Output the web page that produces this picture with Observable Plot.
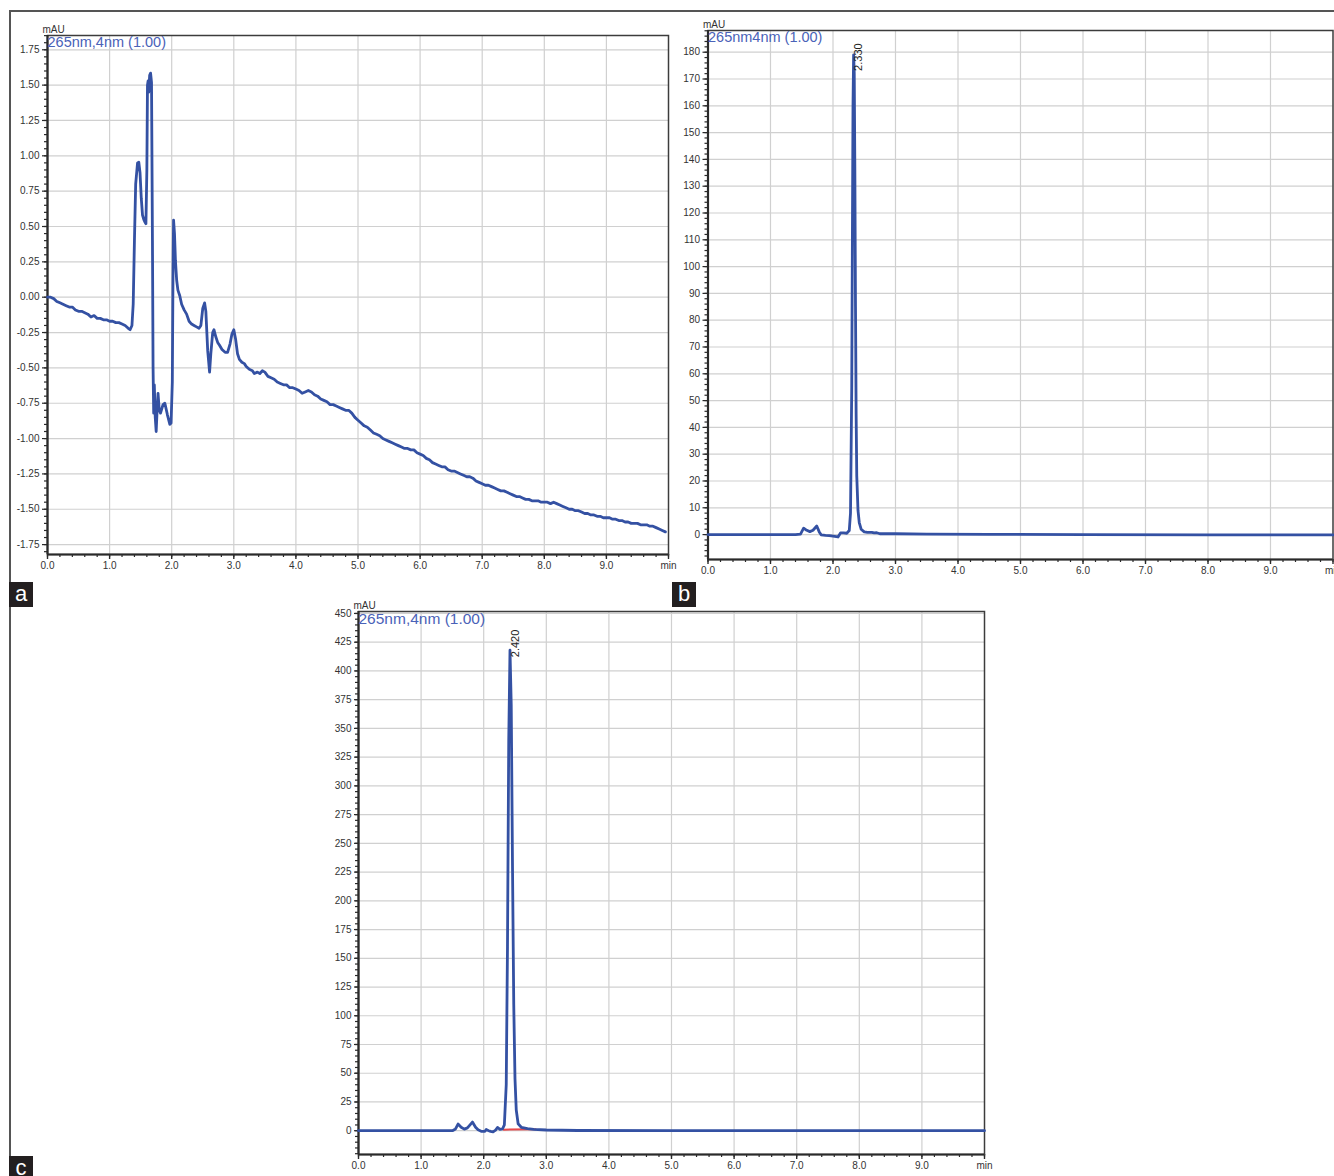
<!DOCTYPE html>
<html><head><meta charset="utf-8">
<script src="https://cdn.jsdelivr.net/npm/d3@7"></script>
<script src="https://cdn.jsdelivr.net/npm/@observablehq/plot@0.6"></script>
<style>
body{margin:0;background:#fff;}
#page{position:relative;width:1334px;height:1176px;overflow:hidden;font-family:"Liberation Sans",Arial,sans-serif;background:#fff}
.panel{position:absolute}
.panel svg{overflow:visible}
.tag{position:absolute;background:#231f20;color:#fff;font-size:22px;line-height:23px;text-align:center;width:24px;height:25px;font-family:"Liberation Sans",Arial,sans-serif}
.hline{position:absolute;background:#555}
</style></head><body><div id="page">
<div class="hline" style="left:9px;top:10px;width:1325px;height:1.5px"></div>
<div class="hline" style="left:9px;top:10px;width:1.5px;height:1166px"></div>
<div id="pa" class="panel" style="left:0;top:0"></div>
<div id="pb" class="panel" style="left:660px;top:0"></div>
<div id="pc" class="panel" style="left:310px;top:580px"></div>
<div class="tag" style="left:9px;top:582px">a</div>
<div class="tag" style="left:672px;top:582px">b</div>
<div class="tag" style="left:9px;top:1156px">c</div>
</div>
<script>
// ---------- shared x axis ----------
const xTicks = [0,1,2,3,4,5,6,7,8,9,10];
const xTickLabels = ["0.0","1.0","2.0","3.0","4.0","5.0","6.0","7.0","8.0","9.0","min"];
const xGrid = [1,2,3,4,5,6,7,8,9];

// ---------- panel a ----------
const aTitle = "265nm,4nm (1.00)";
const aTime = [0.00,0.05,0.10,0.15,0.20,0.25,0.30,0.35,0.40,0.45,0.50,0.55,0.60,0.65,0.70,0.75,0.80,0.85,0.90,0.95,1.00,1.05,1.10,1.15,1.20,1.25,1.30,1.33,1.36,1.38,1.40,1.42,1.45,1.47,1.49,1.51,1.53,1.55,1.57,1.585,1.60,1.61,1.62,1.63,1.645,1.66,1.675,1.69,1.70,1.71,1.72,1.735,1.75,1.765,1.78,1.80,1.82,1.86,1.89,1.93,1.97,1.99,2.01,2.02,2.03,2.045,2.06,2.08,2.10,2.13,2.16,2.20,2.24,2.28,2.32,2.36,2.40,2.44,2.47,2.50,2.53,2.55,2.58,2.61,2.63,2.66,2.68,2.71,2.74,2.77,2.81,2.86,2.90,2.94,2.97,3.00,3.03,3.06,3.09,3.13,3.17,3.20,3.25,3.30,3.33,3.38,3.42,3.46,3.50,3.55,3.60,3.65,3.70,3.75,3.80,3.85,3.90,3.95,4.00,4.05,4.10,4.15,4.20,4.25,4.30,4.35,4.40,4.45,4.50,4.55,4.60,4.65,4.70,4.75,4.80,4.85,4.90,4.95,5.00,5.05,5.10,5.15,5.20,5.25,5.30,5.35,5.40,5.45,5.50,5.55,5.60,5.65,5.70,5.75,5.80,5.85,5.90,5.95,6.00,6.05,6.10,6.15,6.20,6.25,6.30,6.35,6.40,6.45,6.50,6.55,6.60,6.65,6.70,6.75,6.80,6.85,6.90,6.95,7.00,7.05,7.10,7.15,7.20,7.25,7.30,7.35,7.40,7.45,7.50,7.55,7.60,7.65,7.70,7.75,7.80,7.85,7.90,7.95,8.00,8.05,8.10,8.15,8.20,8.25,8.30,8.35,8.40,8.45,8.50,8.55,8.60,8.65,8.70,8.75,8.80,8.85,8.90,8.95,9.00,9.05,9.10,9.15,9.20,9.25,9.30,9.35,9.40,9.45,9.50,9.55,9.60,9.65,9.70,9.75,9.80,9.85,9.90,9.95];
const aSignal = [0.00,0.00,-0.01,-0.03,-0.04,-0.05,-0.06,-0.07,-0.07,-0.09,-0.10,-0.10,-0.11,-0.12,-0.14,-0.13,-0.15,-0.15,-0.16,-0.16,-0.17,-0.17,-0.18,-0.18,-0.19,-0.20,-0.22,-0.23,-0.20,-0.05,0.40,0.80,0.95,0.955,0.88,0.70,0.58,0.55,0.53,0.52,0.90,1.50,1.53,1.45,1.57,1.585,1.52,0.40,-0.50,-0.82,-0.62,-0.85,-0.95,-0.80,-0.68,-0.80,-0.82,-0.76,-0.75,-0.83,-0.90,-0.89,-0.60,0.10,0.545,0.45,0.26,0.12,0.05,0.01,-0.05,-0.09,-0.12,-0.17,-0.19,-0.20,-0.21,-0.22,-0.20,-0.08,-0.04,-0.10,-0.38,-0.53,-0.40,-0.25,-0.23,-0.28,-0.32,-0.34,-0.37,-0.39,-0.39,-0.33,-0.26,-0.23,-0.30,-0.40,-0.44,-0.46,-0.47,-0.49,-0.51,-0.52,-0.54,-0.53,-0.54,-0.52,-0.53,-0.56,-0.57,-0.58,-0.60,-0.61,-0.62,-0.62,-0.64,-0.64,-0.65,-0.66,-0.68,-0.67,-0.66,-0.67,-0.69,-0.70,-0.72,-0.73,-0.74,-0.76,-0.76,-0.77,-0.78,-0.79,-0.80,-0.80,-0.82,-0.85,-0.87,-0.89,-0.91,-0.92,-0.94,-0.96,-0.97,-0.98,-1.00,-1.01,-1.02,-1.03,-1.04,-1.05,-1.06,-1.07,-1.07,-1.08,-1.08,-1.10,-1.11,-1.12,-1.14,-1.15,-1.17,-1.18,-1.19,-1.20,-1.20,-1.22,-1.23,-1.23,-1.24,-1.25,-1.26,-1.27,-1.27,-1.28,-1.30,-1.31,-1.32,-1.33,-1.33,-1.34,-1.35,-1.36,-1.37,-1.37,-1.38,-1.39,-1.40,-1.41,-1.41,-1.42,-1.43,-1.43,-1.44,-1.44,-1.44,-1.45,-1.45,-1.45,-1.46,-1.45,-1.46,-1.47,-1.48,-1.49,-1.50,-1.50,-1.51,-1.51,-1.52,-1.53,-1.53,-1.54,-1.54,-1.55,-1.55,-1.56,-1.56,-1.56,-1.57,-1.57,-1.58,-1.58,-1.59,-1.59,-1.60,-1.60,-1.60,-1.61,-1.61,-1.61,-1.62,-1.62,-1.63,-1.64,-1.65,-1.66];
const aYTicks = [-1.75,-1.5,-1.25,-1,-0.75,-0.5,-0.25,0,0.25,0.5,0.75,1,1.25,1.5,1.75];
const aYLabels = ["-1.75","-1.50","-1.25","-1.00","-0.75","-0.50","-0.25","0.00","0.25","0.50","0.75","1.00","1.25","1.50","1.75"];

// ---------- panel b ----------
const bTitle = "265nm4nm (1.00)";
const bTime = [0.0,1.40,1.48,1.53,1.58,1.63,1.68,1.74,1.78,1.81,1.88,1.94,2.00,2.08,2.12,2.17,2.22,2.26,2.28,2.30,2.31,2.32,2.33,2.34,2.35,2.36,2.37,2.38,2.40,2.42,2.45,2.50,2.55,2.62,2.66,2.70,2.75,3.00,3.50,4.50,6.00,8.00,10.0];
const bSignal = [0.0,0.0,0.2,2.4,1.6,1.1,1.6,3.2,1.0,-0.1,-0.3,-0.4,-0.6,-0.9,0.6,0.6,0.5,1.5,8,55,110,160,179,172,135,85,45,22,9,4.5,2.0,1.0,0.8,0.8,0.6,0.7,0.3,0.3,0.2,0.1,0.0,-0.1,-0.1];
const bPeakTime = [2.33];
const bPeakHeight = [179];
const bPeakLabel = ["2.330"];
const bYTicks = [0,10,20,30,40,50,60,70,80,90,100,110,120,130,140,150,160,170,180];

// ---------- panel c ----------
const cTitle = "265nm,4nm (1.00)";
const cTime = [0.0,1.50,1.55,1.59,1.64,1.69,1.74,1.82,1.87,1.91,1.96,2.02,2.04,2.08,2.11,2.15,2.19,2.22,2.26,2.30,2.33,2.36,2.38,2.40,2.42,2.44,2.46,2.48,2.50,2.52,2.55,2.60,2.70,2.80,3.00,3.50,5.00,10.0];
const cSignal = [0,0,1.5,5.8,3.0,1.4,2.5,7.5,3.0,0.8,-0.5,-0.5,1.0,0.0,-0.6,-1.0,0.5,2.8,1.2,1.5,5,40,160,340,418,370,230,110,45,18,6,3,1.8,1.2,0.6,0.2,0,0];
const cBaseTime = [2.32,2.83];
const cBaseSignal = [0.9,1.3];
const cPeakTime = [2.42];
const cPeakHeight = [418];
const cPeakLabel = ["2.420"];
const cYTicks = [0,25,50,75,100,125,150,175,200,225,250,275,300,325,350,375,400,425,450];

// ---------- builder ----------
const lineColor = "#3451a3";
const titleColor = "#4a62b8";
const gridColor = "#d0d0d0";
const axisColor = "#2a2a2a";

function minorTicks(lo, hi, step) {
  const out = [];
  const n = Math.round((hi - lo) / step);
  for (let i = 0; i <= n; i++) out.push(+(lo + i * step).toFixed(6));
  return out;
}

function buildPanel(o) {
  const data = o.times.map((t, i) => ({t, v: o.values[i]}));
  const marks = [
    Plot.gridX(xGrid, {stroke: gridColor, strokeOpacity: 1, strokeWidth: 1.2}),
    Plot.gridY(o.yTicks, {stroke: gridColor, strokeOpacity: 1, strokeWidth: 1.2}),
    Plot.axisY(o.yMinor, {tickSize: 3, text: null, stroke: axisColor, strokeWidth: 1.2}),
    Plot.axisY(o.yTicks, {tickSize: o.yTickSize, tickPadding: o.yPad, stroke: axisColor, strokeWidth: 1.2, fill: "#333", fontSize: 10, tickFormat: o.yFormat}),
    Plot.axisX(minorTicks(0, 10, 0.2), {tickSize: 3, text: null, stroke: axisColor, strokeWidth: 1.2}),
    Plot.axisX(xTicks, {tickSize: 5, tickPadding: 2, stroke: axisColor, strokeWidth: 1.4, fill: "#333", fontSize: 10, tickFormat: d => xTickLabels[Math.round(d)]}),
    Plot.frame({stroke: "#3c3c3c", strokeWidth: 1.5}),
    Plot.ruleX([0], {stroke: axisColor, strokeWidth: 2.2}),
    Plot.ruleY([o.yDomain[0]], {stroke: axisColor, strokeWidth: 2.2}),
  ];
  if (o.base) marks.push(Plot.line(o.base, {x: "t", y: "v", stroke: "#e8494b", strokeWidth: 2}));
  marks.push(Plot.line(data, {x: "t", y: "v", stroke: lineColor, strokeWidth: 2.8, strokeLinejoin: "round"}));
  if (o.peak) marks.push(Plot.text(o.peak, {x: "t", y: "v", text: "label", rotate: -90, textAnchor: "start", lineAnchor: "middle", dx: o.peakDx, dy: o.peakDy, fontSize: 11, fill: "#222"}));
  marks.push(Plot.text(["mAU"], {frameAnchor: "top-left", textAnchor: "start", lineAnchor: "bottom", dx: -5, dy: -3, fontSize: 10, fill: "#333"}));
  marks.push(Plot.text([o.title], {frameAnchor: "top-left", textAnchor: "start", lineAnchor: "top", dx: 0, dy: 1, fontSize: o.titleSize, fill: titleColor}));
  return Plot.plot({
    width: o.width, height: o.height,
    marginLeft: o.ml, marginRight: o.mr, marginTop: o.mt, marginBottom: o.mb,
    x: {domain: [0, 10], label: null},
    y: {domain: o.yDomain, label: null},
    style: {fontFamily: '"Liberation Sans", Arial, sans-serif', fontSize: "10px", background: "transparent", overflow: "visible"},
    marks
  });
}

document.getElementById("pa").appendChild(buildPanel({
  times: aTime, values: aSignal, title: aTitle, titleSize: 14.5,
  yDomain: [-1.82, 1.851], yTicks: aYTicks, yMinor: minorTicks(-1.8, 1.85, 0.05),
  yFormat: d => aYLabels[aYTicks.indexOf(d)], yTickSize: 5, yPad: 3,
  width: 680, height: 580, ml: 47, mr: 12, mt: 35, mb: 26
}));

document.getElementById("pb").appendChild(buildPanel({
  times: bTime, values: bSignal, title: bTitle, titleSize: 14.5,
  yDomain: [-9.3, 188.1], yTicks: bYTicks, yMinor: minorTicks(-8, 188, 2),
  yFormat: d => String(d), yTickSize: 5, yPad: 3,
  peak: bPeakTime.map((t, i) => ({t, v: bPeakHeight[i], label: bPeakLabel[i]})), peakDx: 5, peakDy: 16,
  width: 674, height: 580, ml: 47.5, mr: 1.5, mt: 30, mb: 21
}));

document.getElementById("pc").appendChild(buildPanel({
  times: cTime, values: cSignal, title: cTitle, titleSize: 15.5,
  yDomain: [-20.7, 451.7], yTicks: cYTicks, yMinor: minorTicks(-20, 450, 5),
  yFormat: d => String(d), yTickSize: 4, yPad: 3,
  base: cBaseTime.map((t, i) => ({t, v: cBaseSignal[i]})),
  peak: cPeakTime.map((t, i) => ({t, v: cPeakHeight[i], label: cPeakLabel[i]})), peakDx: 5, peakDy: 7,
  width: 690, height: 596, ml: 48, mr: 16, mt: 31, mb: 22
}));
</script>
</body></html>
